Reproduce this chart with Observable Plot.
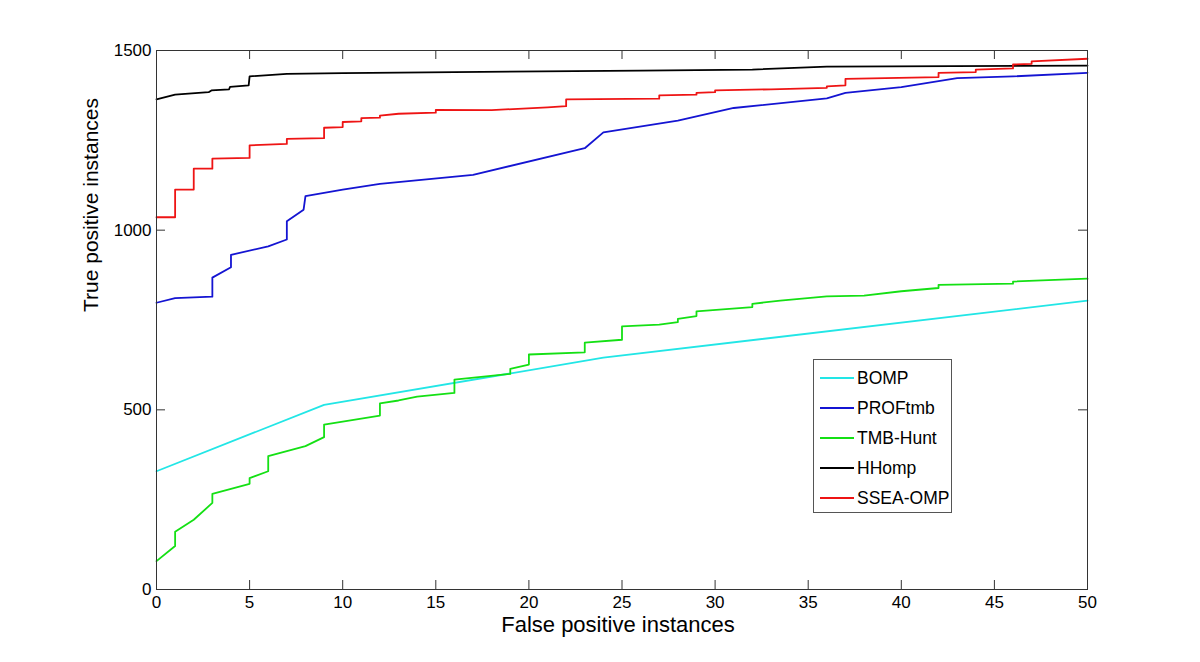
<!DOCTYPE html>
<html><head><meta charset="utf-8">
<script src="https://cdn.jsdelivr.net/npm/d3@7"></script>
<script src="https://cdn.jsdelivr.net/npm/@observablehq/plot@0.6"></script>
<style>
html,body{margin:0;padding:0;background:#fff;}
#wrap{position:relative;width:1200px;height:662px;font-family:"Liberation Sans",Arial,Helvetica,sans-serif;}
#legend{position:absolute;left:813px;top:359px;width:139px;height:154px;border:1px solid #555;background:#fff;box-sizing:border-box;}
.entry{position:absolute;left:0;height:20px;width:138px;}
.entry .sw{position:absolute;left:6px;top:9px;width:34px;height:2px;}
.entry .lb{position:absolute;left:43px;top:0;font-size:17.5px;line-height:20px;color:#000;white-space:nowrap;}
</style></head>
<body>
<div id="wrap"></div>
<script>
const seriesNames = ["BOMP", "PROFtmb", "TMB-Hunt", "HHomp", "SSEA-OMP"];
const seriesColors = ["#22e6e6", "#1414d2", "#14e014", "#000000", "#ee1414"];
const xTicks = [0, 5, 10, 15, 20, 25, 30, 35, 40, 45, 50];
const yTicks = [0, 500, 1000, 1500];
const xLabel = "False positive instances";
const yLabel = "True positive instances";

const bompX = [0, 9, 24, 50];
const bompY = [329, 514, 645, 804];

const proftmbX = [0, 1, 3, 3, 4, 4, 6, 7, 7, 7.9, 8, 10, 12, 17, 23, 24, 28, 31, 36, 37, 40, 43, 46, 50];
const proftmbY = [798, 811, 815, 868, 897, 931, 955, 974, 1025, 1057, 1095, 1113, 1129, 1154, 1228, 1272, 1305, 1340, 1367, 1382, 1398, 1423, 1428, 1438];

const tmbX = [0, 1, 1, 2, 3, 3, 5, 5, 6, 6, 8, 9, 9, 12, 12, 13, 14, 16, 16, 19, 19, 20, 20, 23, 23, 25, 25, 27, 28, 28, 29, 29, 32, 32, 33.5, 36, 38, 40, 42, 42, 46, 46, 50];
const tmbY = [79, 121, 161, 194, 241, 266, 294, 310, 329, 371, 399, 424, 459, 484, 518, 526, 537, 547, 584, 600, 614, 626, 654, 660, 687, 695, 732, 737, 744, 753, 761, 774, 786, 795, 804, 816, 818, 830, 839, 848, 851, 857, 865];

const hhompX = [0, 1, 2.8, 2.95, 3.9, 3.95, 4.95, 5, 7, 10, 16, 26, 32, 36, 50];
const hhompY = [1364, 1377, 1384, 1389, 1392, 1399, 1403, 1428, 1435, 1437, 1440, 1444, 1447, 1455, 1458];

const sseaX = [0, 1, 1, 2, 2, 3, 3, 5, 5, 7, 7, 9, 9, 10, 10, 11, 11, 12, 12, 13, 15, 15, 18, 21, 22, 22, 27, 27, 29, 29, 30, 30, 33, 36, 36, 37, 37, 42, 42, 44, 44, 46, 46, 47, 47, 50];
const sseaY = [1036, 1036, 1113, 1113, 1171, 1171, 1199, 1201, 1236, 1240, 1254, 1256, 1285, 1287, 1301, 1303, 1312, 1313, 1319, 1324, 1327, 1335, 1334, 1342, 1345, 1364, 1366, 1375, 1377, 1382, 1384, 1389, 1392, 1396, 1400, 1403, 1421, 1426, 1438, 1440, 1447, 1450, 1461, 1463, 1470, 1477];

const seriesXs = [bompX, proftmbX, tmbX, hhompX, sseaX];
const seriesYs = [bompY, proftmbY, tmbY, hhompY, sseaY];

const rows = [];
seriesNames.forEach((name, k) => {
  seriesXs[k].forEach((x, i) => rows.push({series: name, x, y: seriesYs[k][i]}));
});

const font = '"Liberation Sans", Arial, Helvetica, sans-serif';
const frameH = 662 - 50 - 73;
const frameW = 1200 - 156 - 113;
const tickLen = 9;

const chart = Plot.plot({
  width: 1200,
  height: 662,
  marginLeft: 156,
  marginRight: 113,
  marginTop: 50,
  marginBottom: 73,
  style: {fontFamily: font, fontSize: "17px", color: "#000", background: "#fff"},
  x: {domain: [0, 50]},
  y: {domain: [0, 1500]},
  color: {domain: seriesNames, range: seriesColors},
  marks: [
    Plot.line(rows, {x: "x", y: "y", z: "series", stroke: "series", strokeWidth: 1.8, curve: "linear"}),
    Plot.frame({stroke: "#333", strokeWidth: 1}),
    Plot.tickX(xTicks, {x: d => d, stroke: "#333", insetTop: frameH - tickLen}),
    Plot.tickX(xTicks, {x: d => d, stroke: "#333", insetBottom: frameH - tickLen}),
    Plot.tickY(yTicks, {y: d => d, stroke: "#333", insetLeft: frameW - tickLen}),
    Plot.tickY(yTicks, {y: d => d, stroke: "#333", insetRight: frameW - tickLen}),
    Plot.axisX({ticks: xTicks, tickSize: 0, tickPadding: 6, label: null, fontSize: 17, fill: "#000", tickFormat: d => String(d)}),
    Plot.axisY({ticks: yTicks, tickSize: 0, tickPadding: 5, label: null, fontSize: 17, fill: "#000", tickFormat: d => String(d)}),
    Plot.text([xLabel], {frameAnchor: "bottom", dy: 35, dx: -4, fontSize: 22, fill: "#000", lineAnchor: "middle"}),
    Plot.text([yLabel], {frameAnchor: "left", dx: -65, dy: -8, rotate: -90, fontSize: 21, fill: "#000", lineAnchor: "middle"})
  ]
});

const wrap = document.getElementById("wrap");
wrap.appendChild(chart);

const legend = document.createElement("div");
legend.id = "legend";
seriesNames.forEach((name, i) => {
  const e = document.createElement("div");
  e.className = "entry";
  e.style.top = (8 + 30 * i) + "px";
  const sw = document.createElement("div");
  sw.className = "sw";
  sw.style.background = seriesColors[i];
  const lb = document.createElement("div");
  lb.className = "lb";
  lb.textContent = name;
  e.appendChild(sw);
  e.appendChild(lb);
  legend.appendChild(e);
});
wrap.appendChild(legend);
</script>
</body></html>
